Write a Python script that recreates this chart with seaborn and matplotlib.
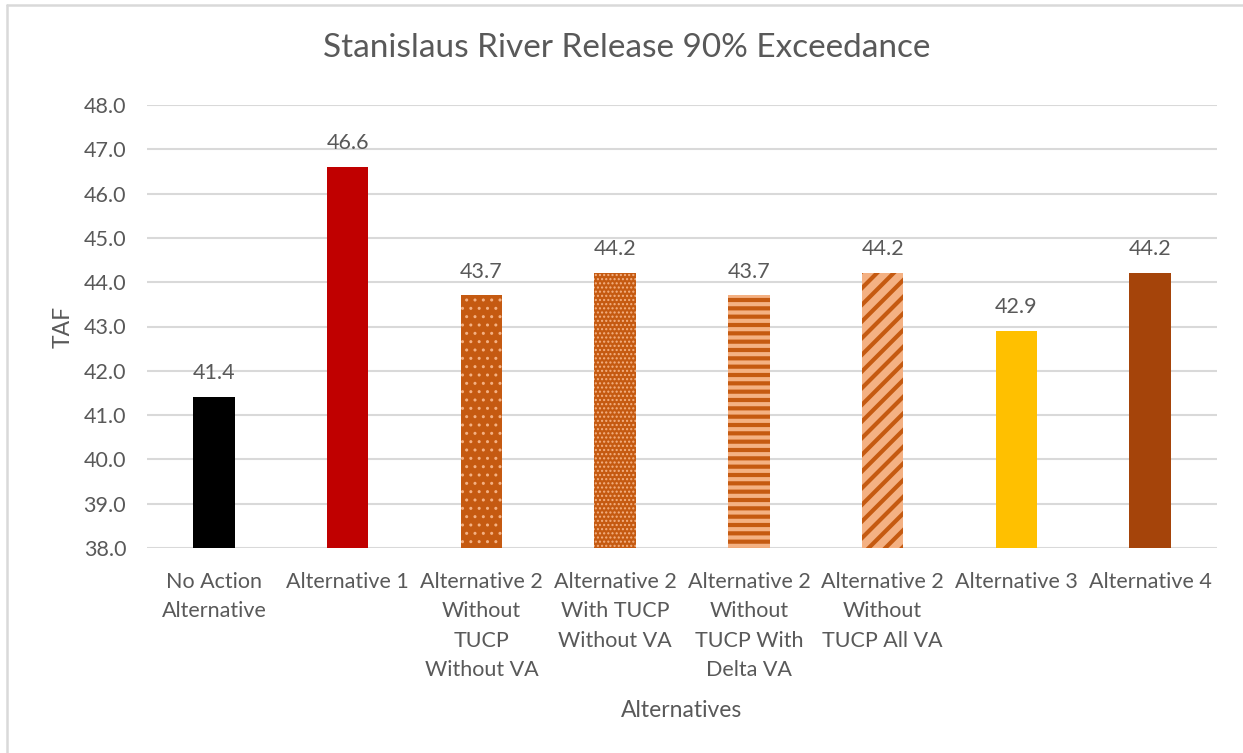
import matplotlib
matplotlib.use("Agg")
import matplotlib.pyplot as plt
import seaborn as sns
from matplotlib.lines import Line2D

# Chart data
categories = [
    "No Action\nAlternative",
    "Alternative 1",
    "Alternative 2\nWithout\nTUCP\nWithout VA",
    "Alternative 2\nWith TUCP\nWithout VA",
    "Alternative 2\nWithout\nTUCP With\nDelta VA",
    "Alternative 2\nWithout\nTUCP All VA",
    "Alternative 3",
    "Alternative 4",
]
values = [41.4, 46.6, 43.7, 44.2, 43.7, 44.2, 42.9, 44.2]
bar_colors = ["#000000", "#C00000", "#C55A11", "#C55A11", "#C55A11",
              "#F4B183", "#FFC000", "#A5440A"]
# hatch pattern and hatch colour for the patterned bars
hatches = [None, None, "..", "....", "--", "//", None, None]
hatch_colors = [None, None, "#F4B183", "#F4B183", "#F4B183", "#C55A11", None, None]
hatch_widths = [None, None, 1.0, 1.0, 3.0, 3.0, None, None]

sns.set_style("white")
plt.rcParams["font.family"] = ["Lato", "DejaVu Sans"]
text_color = "#595959"
grid_color = "#D9D9D9"

fig = plt.figure(figsize=(12.43, 7.53), dpi=100)
ax = fig.add_axes([147 / 1243, 205 / 753, (1217 - 147) / 1243, (548 - 105) / 753])

sns.barplot(x=categories, y=values, hue=categories, palette=bar_colors,
            legend=False, width=0.31, saturation=1, ax=ax, zorder=3)

for i, cont in enumerate(ax.containers):
    for p in cont:
        p.set_linewidth(0)
        if hatches[i]:
            p.set_hatch(hatches[i])
            p.set_edgecolor(hatch_colors[i])
            if hasattr(p, "set_hatch_linewidth"):
                p.set_hatch_linewidth(hatch_widths[i])
    ax.bar_label(cont, fmt="%.1f", padding=10, fontsize=15.5, color=text_color)

ax.set_ylim(38, 48)
ax.set_yticks(range(38, 49))
ax.set_yticklabels([f"{v:.1f}" for v in range(38, 49)])
ax.set_xlim(-0.5, len(categories) - 0.5)
ax.yaxis.grid(True, color=grid_color, linewidth=1.5, zorder=0)
ax.set_axisbelow(True)
for s in ax.spines.values():
    s.set_visible(False)
ax.tick_params(axis="both", length=0, labelsize=15.5, labelcolor=text_color)
ax.tick_params(axis="y", pad=15)
ax.tick_params(axis="x", pad=17)
for lbl in ax.get_xticklabels():
    lbl.set_linespacing(1.6)

ax.set_xlabel("Alternatives", fontsize=16.5, color=text_color, labelpad=14)
ax.set_ylabel("TAF", fontsize=16.5, color=text_color, labelpad=7)
fig.text(627 / 1243, 1 - 48 / 753, "Stanislaus River Release 90% Exceedance",
         fontsize=24, color=text_color, ha="center", va="center")

# chart area border (left and top edges visible)
fig.add_artist(Line2D([7 / 1243, 7 / 1243], [0, 1 - 5 / 753],
                      transform=fig.transFigure, color=grid_color, lw=1.8))
fig.add_artist(Line2D([7 / 1243, 1], [1 - 5 / 753, 1 - 5 / 753],
                      transform=fig.transFigure, color=grid_color, lw=1.8))

fig.savefig("out.png", dpi=100)
